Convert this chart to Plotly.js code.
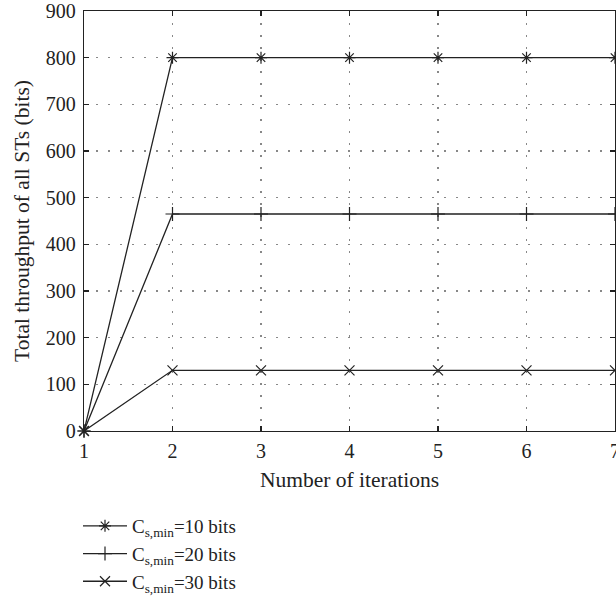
<!DOCTYPE html>
<html>
<head>
<meta charset="utf-8">
<script src="https://cdn.plot.ly/plotly-3.0.1.min.js"></script>
<style>html,body{margin:0;padding:0;background:#fff;}#chart{width:616px;height:596px;}</style>
</head>
<body>
<div id="chart"></div>
<script>
const iterations = [1, 2, 3, 4, 5, 6, 7];
const cs10 = [0, 800, 800, 800, 800, 800, 800];
const cs20 = [0, 465, 465, 465, 465, 465, 465];
const cs30 = [0, 130, 130, 130, 130, 130, 130];
const seriesNames = ["C<sub>s,min</sub>=10 bits", "C<sub>s,min</sub>=20 bits", "C<sub>s,min</sub>=30 bits"];
const xTicks = [1, 2, 3, 4, 5, 6, 7];
const yTicks = [0, 100, 200, 300, 400, 500, 600, 700, 800, 900];

const ink = '#222';
const font = "'Liberation Serif', 'Times New Roman', serif";
function tr(y, name, sym) {
  return {
    x: iterations, y: y, name: name, type: 'scatter', mode: 'lines+markers',
    line: {color: ink, width: 1.3},
    marker: {symbol: sym, size: 10, color: ink, line: {color: ink, width: 1.2}},
    cliponaxis: false
  };
}
const data = [
  tr(cs10, seriesNames[0], 'asterisk-open'),
  tr(cs20, seriesNames[1], 'cross-thin-open'),
  tr(cs30, seriesNames[2], 'x-thin-open')
];
const axisCommon = {
  showline: true, linecolor: ink, linewidth: 1.3, mirror: 'allticks',
  ticks: 'inside', ticklen: 5, tickcolor: ink, tickwidth: 1.3,
  showgrid: true, gridcolor: '#888', griddash: '1.5px,10.5px', gridwidth: 1.2,
  zeroline: false, tickfont: {family: font, size: 20, color: ink}, ticklabeloverflow: 'allow'
};
const layout = {
  width: 616, height: 596,
  margin: {l: 84, r: 1, t: 11, b: 165, autoexpand: false},
  paper_bgcolor: '#fff', plot_bgcolor: '#fff',
  font: {family: font, color: ink},
  xaxis: Object.assign({}, axisCommon, {
    range: [1, 7], tickvals: xTicks, ticklabelstandoff: 2,
    title: {text: 'Number of iterations', font: {family: font, size: 21.5, color: ink}, standoff: 10}
  }),
  yaxis: Object.assign({}, axisCommon, {
    range: [0, 900], tickvals: yTicks, ticklabelstandoff: 3,
    title: {text: 'Total throughput of all STs (bits)', font: {family: font, size: 21.5, color: ink}, standoff: 10}
  }),
  showlegend: true,
  legend: {
    x: -6/531, y: -76/420,
    xanchor: 'left', yanchor: 'top', bgcolor: 'rgba(0,0,0,0)',
    font: {family: font, size: 19, color: ink}, tracegroupgap: 0, itemwidth: 44
  }
};
Plotly.newPlot('chart', data, layout, {displayModeBar: false, staticPlot: true});
</script>
</body>
</html>
